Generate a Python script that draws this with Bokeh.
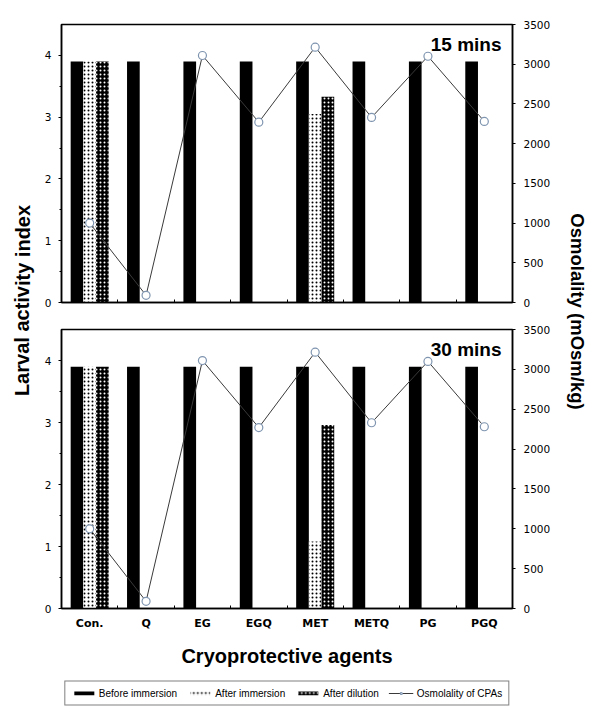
from bokeh.plotting import figure
from bokeh.models import (Range1d, LinearAxis, FixedTicker, ColumnDataSource, Label,
                          Legend, LegendItem)
from bokeh.layouts import row, column
from bokeh.embed import file_html
from bokeh.resources import INLINE
from bokeh.transform import dodge

# ---------------- data ----------------
categories = ["Con.", "Q", "EG", "EGQ", "MET", "METQ", "PG", "PGQ"]

before_15 = [3.9, 3.9, 3.9, 3.9, 3.9, 3.9, 3.9, 3.9]
after_imm_15 = [3.9, 0, 0, 0, 3.05, 0, 0, 0]
after_dil_15 = [3.9, 0, 0, 0, 3.33, 0, 0, 0]

before_30 = [3.9, 3.9, 3.9, 3.9, 3.9, 3.9, 3.9, 3.9]
after_imm_30 = [3.9, 0, 0, 0, 1.08, 0, 0, 0]
after_dil_30 = [3.9, 0, 0, 0, 2.96, 0, 0, 0]

osmolality = [1000, 90, 3110, 2270, 3215, 2330, 3100, 2280]

left_ticks = [0, 1, 2, 3, 4]
left_minor = [0.5, 1.5, 2.5, 3.5]
right_ticks = [0, 500, 1000, 1500, 2000, 2500, 3000, 3500]

series_labels = ["Before immersion", "After immersion", "After dilution", "Osmolality of CPAs"]

# ---------------- styling ----------------
BAR_W = 0.225
TICK_FONT = "DejaVu Sans"
TITLE_FONT = "Liberation Sans"
PANEL_W = 524
LINE_COLOR = "#3a3a3a"
MARK_COLOR = "#7f95b0"

x_pos = [i + 0.5 for i in range(len(categories))]
boundaries = [i for i in range(1, len(categories))]

BAR_STYLES = [
    dict(fill_color="black", line_color=None),
    dict(fill_color="white", hatch_pattern="dot", hatch_color="black", hatch_scale=4,
         hatch_weight=1, line_color=None),
    dict(fill_color="black", hatch_pattern="dot", hatch_color="white", hatch_scale=4,
         hatch_weight=1, line_color=None),
]


def draw_series(p, src):
    rb = p.vbar(x=dodge("x", -BAR_W, range=p.x_range), top="before", width=BAR_W,
                source=src, **BAR_STYLES[0])
    ri = p.vbar(x="x", top="imm", width=BAR_W, source=src, **BAR_STYLES[1])
    rd = p.vbar(x=dodge("x", BAR_W, range=p.x_range), top="dil", width=BAR_W, source=src,
                **BAR_STYLES[2])
    rl = p.line(x="x", y="osm", y_range_name="osm", source=src,
                line_color=LINE_COLOR, line_width=1)
    rp = p.scatter(x="x", y="osm", y_range_name="osm", source=src, marker="circle",
                   size=8, fill_color="white", line_color=MARK_COLOR, line_width=1.2)
    return rb, ri, rd, rl, rp


def make_panel(before, after_imm, after_dil, osm, tag, show_labels, height, b_top, b_bottom):
    p = figure(width=PANEL_W, height=height, x_range=Range1d(0, len(categories)),
               y_range=Range1d(0, 4.5), output_backend="svg", toolbar_location=None,
               x_axis_type=None, y_axis_type=None,
               min_border_left=23, min_border_right=50,
               min_border_top=b_top, min_border_bottom=b_bottom)
    p.extra_y_ranges = {"osm": Range1d(0, 3500)}
    p.outline_line_color = "black"
    p.outline_line_width = 1.5

    src = ColumnDataSource(dict(x=x_pos, before=before, imm=after_imm, dil=after_dil, osm=osm))
    draw_series(p, src)

    ly = LinearAxis(ticker=FixedTicker(ticks=left_ticks, minor_ticks=left_minor))
    ly.major_tick_in = 0
    ly.major_tick_out = 3
    ly.minor_tick_in = 0
    ly.minor_tick_out = 2
    ly.major_label_standoff = 7
    ly.axis_line_width = 1.5
    ly.major_label_text_font = TICK_FONT
    ly.major_label_text_font_size = "10.5px"
    ly.major_label_text_color = "black"
    p.add_layout(ly, "left")

    ry = LinearAxis(y_range_name="osm", ticker=FixedTicker(ticks=right_ticks, minor_ticks=[]))
    ry.major_tick_in = 0
    ry.major_tick_out = 3
    ry.minor_tick_in = 0
    ry.minor_tick_out = 0
    ry.major_label_standoff = 8
    ry.axis_line_width = 1.5
    ry.major_label_text_font = TICK_FONT
    ry.major_label_text_font_size = "10.5px"
    ry.major_label_text_color = "black"
    p.add_layout(ry, "right")

    if show_labels:
        bx = LinearAxis(ticker=FixedTicker(ticks=x_pos, minor_ticks=boundaries))
        bx.major_label_overrides = {x: c for x, c in zip(x_pos, categories)}
        bx.axis_label = "Cryoprotective agents"
        bx.axis_label_text_font = TITLE_FONT
        bx.axis_label_text_font_style = "bold"
        bx.axis_label_text_font_size = "20px"
        bx.axis_label_text_color = "black"
        bx.axis_label_standoff = 12
        bx.major_label_text_font = TICK_FONT
        bx.major_label_text_font_style = "bold"
        bx.major_label_text_font_size = "11px"
        bx.major_label_text_color = "black"
        bx.major_label_standoff = 8
    else:
        bx = LinearAxis(ticker=FixedTicker(ticks=[], minor_ticks=boundaries))
    bx.major_tick_in = 0
    bx.major_tick_out = 0
    bx.minor_tick_in = 3
    bx.minor_tick_out = 0
    bx.axis_line_width = 1.5
    p.add_layout(bx, "below")

    p.add_layout(Label(x=len(categories), y=4.5, x_offset=-11, y_offset=-9, text=tag,
                       text_align="right", text_baseline="top", text_font=TITLE_FONT,
                       text_font_style="bold", text_font_size="19px", text_color="black"))
    return p, src


top, _ = make_panel(before_15, after_imm_15, after_dil_15, osmolality, "15 mins",
                    False, 315, 24, 13)
bottom, src30 = make_panel(before_30, after_imm_30, after_dil_30, osmolality, "30 mins",
                           True, 355, 14, 62)

# legend figure: the series are drawn with a view range that shows none of them,
# so only the key is visible
leg_fig = figure(width=PANEL_W, height=45, x_range=Range1d(100, 101),
                 y_range=Range1d(100, 101), output_backend="svg", toolbar_location=None,
                 x_axis_type=None, y_axis_type=None, min_border_left=23,
                 min_border_right=50, min_border_top=0, min_border_bottom=0)
leg_fig.outline_line_color = None
leg_fig.extra_y_ranges = {"osm": Range1d(100000, 100001)}
lr = draw_series(leg_fig, src30)
legend = Legend(items=[
    LegendItem(label=series_labels[0], renderers=[lr[0]], index=0),
    LegendItem(label=series_labels[1], renderers=[lr[1]], index=0),
    LegendItem(label=series_labels[2], renderers=[lr[2]], index=0),
    LegendItem(label=series_labels[3], renderers=[lr[3], lr[4]], index=0),
], orientation="horizontal", location="center")
legend.border_line_color = "black"
legend.border_line_width = 1
legend.background_fill_color = "white"
legend.label_text_font = TITLE_FONT
legend.label_text_font_size = "10px"
legend.label_text_color = "black"
legend.glyph_width = 25
legend.glyph_height = 5
legend.label_standoff = 3
legend.spacing = 10
legend.padding = 6
legend.margin = 0
legend.label_height = 10
leg_fig.add_layout(legend, "center")

# side labels
H = 315 + 355 + 45
left_fig = figure(width=38, height=H, x_range=Range1d(0, 38), y_range=Range1d(0, H),
                  output_backend="svg", toolbar_location=None, x_axis_type=None,
                  y_axis_type=None, min_border=0)
left_fig.outline_line_color = None
left_fig.add_layout(Label(x=22, y=H - 300, text="Larval activity index", angle=1.5707963,
                          text_align="center", text_baseline="middle", text_font=TITLE_FONT,
                          text_font_style="bold", text_font_size="20px", text_color="black"))

right_fig = figure(width=25, height=H, x_range=Range1d(0, 25), y_range=Range1d(0, H),
                   output_backend="svg", toolbar_location=None, x_axis_type=None,
                   y_axis_type=None, min_border=0)
right_fig.outline_line_color = None
right_fig.add_layout(Label(x=15, y=H - 311, text="Osmolality (mOsm/kg)", angle=-1.5707963,
                           text_align="center", text_baseline="middle", text_font=TITLE_FONT,
                           text_font_style="bold", text_font_size="18.5px", text_color="black"))

layout = row(left_fig, column(top, bottom, leg_fig), right_fig)

open("out.html", "w").write(file_html(layout, INLINE))
